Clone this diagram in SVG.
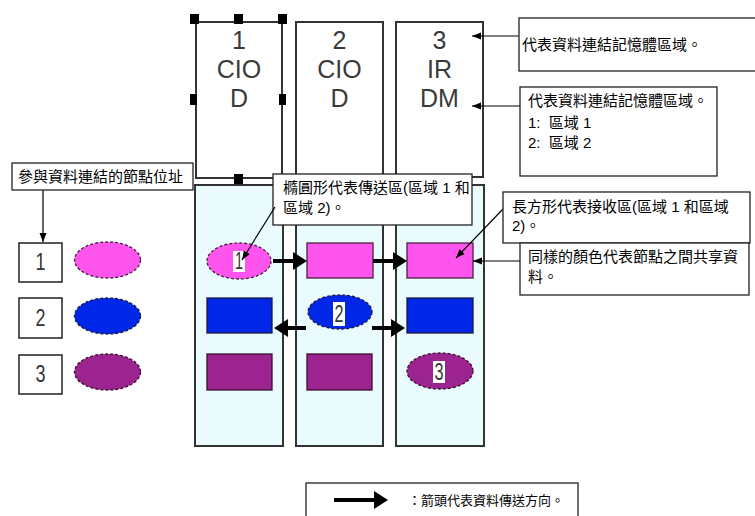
<svg xmlns="http://www.w3.org/2000/svg" width="755" height="516" viewBox="0 0 755 516">
<defs>
<style>
.col{fill:#ffffff;stroke:#333;stroke-width:2}
.colb{fill:#eafbfd;stroke:#333;stroke-width:2}
.big{font-family:'Liberation Sans',sans-serif;font-size:25px;fill:#3a3a3a;text-anchor:middle}
.dig{font-family:'Liberation Sans',sans-serif;font-size:23px;fill:#333;text-anchor:middle}
.cj{font-family:'Liberation Sans','Noto Sans CJK TC',sans-serif;font-size:15px;fill:#000;white-space:pre}
.lg{font-size:13px}
.call{fill:#fff;stroke:#222;stroke-width:1.3}
.nb{fill:#fff;stroke:#222;stroke-width:1.5}
.mag{fill:#ff55ee;stroke:#4a2040;stroke-width:1.3}
.blu{fill:#0026e8;stroke:#1a1a40;stroke-width:1.3}
.pur{fill:#9c2490;stroke:#3a1030;stroke-width:1.3}
.dash{stroke-dasharray:3 2}
.thin{stroke:#000;stroke-width:1.2;fill:none;marker-end:url(#ah)}
.thick{stroke:#000;stroke-width:4;fill:none;marker-end:url(#ahb)}
.hl{fill:#fff}
.hdl{fill:#000}
</style>
<marker id="ah" markerUnits="userSpaceOnUse" markerWidth="10" markerHeight="8" viewBox="0 0 10 8" refX="9" refY="4" orient="auto">
<path d="M0,0.5 L9,4 L0,7.5 z" fill="#000"/>
</marker>
<marker id="ahb" markerUnits="userSpaceOnUse" markerWidth="16" markerHeight="20" viewBox="0 0 16 20" refX="2" refY="10" orient="auto">
<path d="M0,1 L14,10 L0,19 z" fill="#000"/>
</marker>
</defs>

<g id="mem1">
<rect class="col" x="196" y="22" width="86" height="156"/>
<text class="big" x="239" y="49">1</text>
<text class="big" x="239" y="78">CIO</text>
<text class="big" x="239" y="107">D</text>
<rect class="hdl" x="190" y="14" width="9" height="10"/>
<rect class="hdl" x="234" y="14" width="9" height="10"/>
<rect class="hdl" x="278" y="14" width="9" height="10"/>
<rect class="hdl" x="190" y="94" width="7" height="11"/>
<rect class="hdl" x="279" y="94" width="7" height="11"/>
<rect class="hdl" x="234" y="174" width="9" height="10"/>
</g>
<g id="mem2">
<rect class="col" x="296" y="22" width="87" height="156"/>
<text class="big" x="339.5" y="49">2</text>
<text class="big" x="339.5" y="78">CIO</text>
<text class="big" x="339.5" y="107">D</text>
</g>
<g id="mem3">
<rect class="col" x="396" y="22" width="87" height="155"/>
<text class="big" x="439.5" y="49">3</text>
<text class="big" x="439.5" y="78">IR</text>
<text class="big" x="439.5" y="107">DM</text>
</g>

<g id="node1">
<rect class="colb" x="195" y="185" width="88" height="261"/>
<ellipse class="mag dash" cx="239" cy="261" rx="32" ry="18"/>
<rect class="hl" x="233" y="251" width="12" height="21"/>
<text class="dig" x="239" y="269" textLength="8" lengthAdjust="spacingAndGlyphs">1</text>
<rect class="blu" x="207" y="298" width="65" height="35"/>
<rect class="pur" x="207" y="354" width="65" height="36"/>
</g>
<g id="node2">
<rect class="colb" x="296" y="185" width="87" height="261"/>
<rect class="mag" x="307" y="243" width="66" height="35"/>
<ellipse class="blu dash" cx="340" cy="312" rx="32" ry="17"/>
<rect class="hl" x="333" y="302" width="12" height="24"/>
<text class="dig" x="339" y="322" textLength="9" lengthAdjust="spacingAndGlyphs">2</text>
<rect class="pur" x="307" y="354" width="65" height="36"/>
</g>
<g id="node3">
<rect class="colb" x="396" y="185" width="88" height="261"/>
<rect class="mag" x="407" y="243" width="66" height="35"/>
<rect class="blu" x="407" y="298" width="66" height="35"/>
<ellipse class="pur dash" cx="440" cy="371" rx="33" ry="18"/>
<rect class="hl" x="433" y="361" width="12" height="22"/>
<text class="dig" x="439" y="380" textLength="9" lengthAdjust="spacingAndGlyphs">3</text>
</g>

<g id="legend-nodes">
<rect class="nb" x="19" y="243" width="43" height="39"/>
<text class="dig" x="40.5" y="270" textLength="10" lengthAdjust="spacingAndGlyphs">1</text>
<rect class="nb" x="19" y="298" width="43" height="40"/>
<text class="dig" x="40.5" y="326" textLength="10" lengthAdjust="spacingAndGlyphs">2</text>
<rect class="nb" x="19" y="355" width="43" height="39"/>
<text class="dig" x="40.5" y="382" textLength="10" lengthAdjust="spacingAndGlyphs">3</text>
<ellipse class="mag dash" cx="107.5" cy="260" rx="33" ry="18"/>
<ellipse class="blu dash" cx="107.5" cy="316" rx="33" ry="18"/>
<ellipse class="pur dash" cx="107.5" cy="372" rx="33" ry="18"/>
</g>

<g id="connectors">
<line class="thick" x1="273" y1="261" x2="295" y2="261"/>
<line class="thick" x1="373" y1="261" x2="395" y2="261"/>
<line class="thick" x1="306" y1="328" x2="286" y2="328"/>
<line class="thick" x1="372" y1="328" x2="393" y2="328"/>
<line class="thin" x1="43" y1="190" x2="43" y2="242"/>
<line class="thin" x1="519" y1="36" x2="472" y2="36"/>
<line class="thin" x1="520" y1="106" x2="472" y2="106"/>
<line class="thin" x1="504" y1="208" x2="456" y2="258"/>
<line class="thin" x1="520" y1="261" x2="473" y2="261"/>
</g>

<g id="call-addr">
<rect class="call" x="12" y="163" width="181" height="27"/>
<text class="cj" x="18" y="182">參與資料連結的節點位址</text>
</g>
<g id="call-send">
<rect class="call" x="273" y="174" width="199" height="51"/>
<text class="cj" x="283" y="193">橢圓形代表傳送區(區域 1 和</text>
<text class="cj" x="283" y="213">區域 2)。</text>
</g>
<line class="thin" x1="275" y1="207" x2="242" y2="260"/>
<g id="call-recv">
<rect class="call" x="503" y="192" width="247" height="51"/>
<text class="cj" x="512" y="212">長方形代表接收區(區域 1 和區域</text>
<text class="cj" x="512" y="231">2)。</text>
</g>
<g id="call-share">
<rect class="call" x="520" y="243" width="229" height="52"/>
<text class="cj" x="528" y="262">同樣的顏色代表節點之間共享資</text>
<text class="cj" x="528" y="282">料。</text>
</g>
<g id="call-mem">
<rect class="call" x="519" y="18" width="240" height="53"/>
<text class="cj" x="522" y="50">代表資料連結記憶體區域。</text>
</g>
<g id="call-mem2">
<rect class="call" x="520" y="87" width="197" height="89"/>
<text class="cj" x="528" y="106">代表資料連結記憶體區域。</text>
<text class="cj" x="528" y="128">1:  區域 1</text>
<text class="cj" x="528" y="148">2:  區域 2</text>
</g>
<g id="legend-arrow">
<rect class="call" x="306" y="483" width="272" height="40"/>
<line class="thick" x1="334" y1="500" x2="376" y2="500"/>
<text class="cj lg" x="408" y="505">：箭頭代表資料傳送方向。</text>
</g>
</svg>
